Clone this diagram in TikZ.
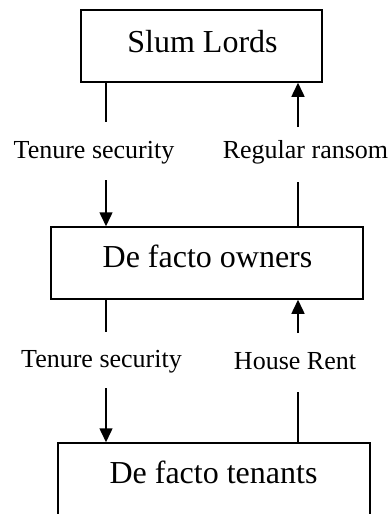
\documentclass[tikz,border=0pt]{standalone}
\usepackage{fontspec}
\setmainfont{Liberation Serif}
\usetikzlibrary{arrows.meta}
\begin{document}
\begin{tikzpicture}[x=1pt,y=-1pt, line width=1.5pt,
  box/.style={draw, rectangle, inner sep=0pt, minimum height=72pt},
  boxtext/.style={font=\fontsize{32}{36}\selectfont, anchor=base, inner sep=0pt},
  lbl/.style={font=\fontsize{26}{30}\selectfont, anchor=base, inner sep=0pt},
  flow/.style={-{Triangle[length=14pt,width=13pt]}}]
\useasboundingbox (0,0) rectangle (389,514);
\clip (0,0) rectangle (389,514);

% the three parties
\node[box, minimum width=241pt] (lords)   at (201.5,46) {};
\node[box, minimum width=312pt] (owners)  at (207,263) {};
\node[box, minimum width=312pt] (tenants) at (214,479) {};

\node[boxtext] (lordsT)   at (202.5,52)  {Slum Lords};
\node[boxtext] (ownersT)  at (207.5,267) {De facto owners};
\node[boxtext] (tenantsT) at (213.5,483) {De facto tenants};

% flow labels
\node[lbl] (sec1) at (94,158)    {Tenure security};
\node[lbl] (ran)  at (305.5,158) {Regular ransom};
\node[lbl] (sec2) at (101.5,367) {Tenure security};
\node[lbl] (rent) at (295,369)   {House Rent};

% break points of the connectors around the labels
\coordinate (a1) at (106,122);
\coordinate (a2) at (106,180);
\coordinate (b1) at (298,182);
\coordinate (b2) at (298,127);
\coordinate (c1) at (106,332);
\coordinate (c2) at (106,388);
\coordinate (d1) at (298,392);
\coordinate (d2) at (298,333);

% lords -> owners: tenure security
\draw (lords.south -| a1) -- (a1);
\draw[flow] (a2) -- (owners.north -| a2);
% owners -> lords: regular ransom
\draw (owners.north -| b1) -- (b1);
\draw[flow] (b2) -- (lords.south -| b2);
% owners -> tenants: tenure security
\draw (owners.south -| c1) -- (c1);
\draw[flow] (c2) -- (tenants.north -| c2);
% tenants -> owners: house rent
\draw (tenants.north -| d1) -- (d1);
\draw[flow] (d2) -- (owners.south -| d2);
\end{tikzpicture}
\end{document}
